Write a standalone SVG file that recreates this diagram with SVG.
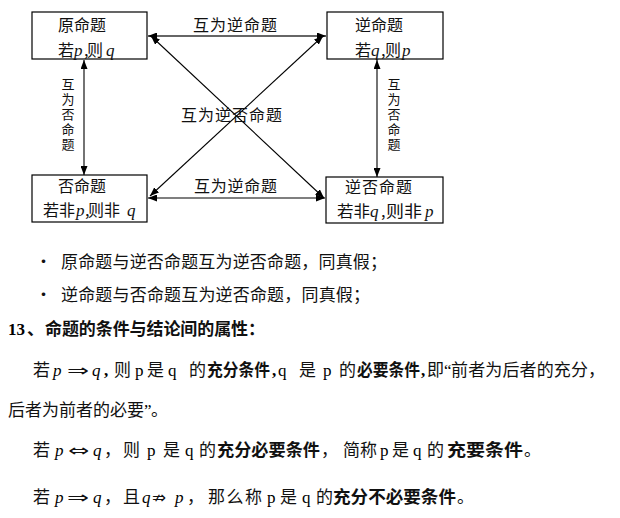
<svg xmlns="http://www.w3.org/2000/svg" width="620" height="518" viewBox="0 0 620 518">
<defs>
<style>
.cj{font-family:"Noto Sans CJK SC","Noto Sans",sans-serif;fill:#111}
.d{font-size:16px}
.t{font-size:17px}
.v{font-size:13px;text-anchor:middle}
.b{font-weight:bold}
.m{font-family:"Liberation Serif",serif;font-style:italic;font-size:17px}
.r{font-family:"Liberation Serif",serif;font-size:17px}
.s{font-family:"DejaVu Sans",sans-serif;font-size:16px;fill:#111}
.box{fill:#fff;stroke:#000;stroke-width:1.2}
.ln{stroke:#000;stroke-width:1.1;fill:none;marker-start:url(#ah);marker-end:url(#ah)}
</style>
<marker id="ah" markerUnits="userSpaceOnUse" markerWidth="9" markerHeight="7" refX="9" refY="3.5" orient="auto-start-reverse">
<path d="M0,0 L9,3.5 L0,7 z" fill="#000"/>
</marker>
</defs>
<rect width="620" height="518" fill="#fff"/>

<g id="connectors">
<line class="ln" x1="148" y1="36" x2="326" y2="36" style="stroke:#666;stroke-width:2"/>
<line class="ln" x1="148" y1="198" x2="325" y2="198"/>
<line class="ln" x1="84" y1="60" x2="84" y2="175"/>
<line class="ln" x1="377" y1="60" x2="377" y2="177"/>
<line class="ln" x1="151" y1="36" x2="324" y2="198"/>
<line class="ln" x1="323" y1="36" x2="150" y2="196"/>
<text class="cj d" x="193" y="31" textLength="84" lengthAdjust="spacing">互为逆命题</text>
<text class="cj d" x="181" y="121" textLength="101" lengthAdjust="spacing">互为逆否命题</text>
<text class="cj d" x="194" y="192" textLength="83" lengthAdjust="spacing">互为逆命题</text>
<text class="cj v"><tspan x="68" y="88.5">互</tspan><tspan x="68" y="103.5">为</tspan><tspan x="68" y="118.5">否</tspan><tspan x="68" y="133.5">命</tspan><tspan x="68" y="148.5">题</tspan></text>
<text class="cj v"><tspan x="394" y="88.5">互</tspan><tspan x="394" y="103.5">为</tspan><tspan x="394" y="118.5">否</tspan><tspan x="394" y="133.5">命</tspan><tspan x="394" y="148.5">题</tspan></text>
</g>

<g id="n-yuan">
<rect class="box" x="32" y="12" width="115" height="47"/>
<text class="cj d" x="58" y="30.5">原命题</text>
<text class="cj d" y="56"><tspan x="58">若</tspan><tspan class="m" x="74">p</tspan><tspan x="84">,</tspan><tspan x="87">则</tspan><tspan class="m" x="106">q</tspan></text>
</g>
<g id="n-ni">
<rect class="box" x="327" y="12" width="116" height="47"/>
<text class="cj d" x="355" y="31">逆命题</text>
<text class="cj d" y="56"><tspan x="355">若</tspan><tspan class="m" x="371">q</tspan><tspan x="381">,</tspan><tspan x="385">则</tspan><tspan class="m" x="402">p</tspan></text>
</g>
<g id="n-fou">
<rect class="box" x="32" y="175" width="115" height="47"/>
<text class="cj d" x="58" y="191.5">否命题</text>
<text class="cj d" y="215.5"><tspan x="43">若非</tspan><tspan class="m" x="76">p</tspan><tspan x="85">,</tspan><tspan x="88">则非</tspan><tspan class="m" x="127">q</tspan></text>
</g>
<g id="n-nifou">
<rect class="box" x="326" y="177" width="117" height="46"/>
<text class="cj d" x="345" y="193" textLength="67" lengthAdjust="spacing">逆否命题</text>
<text class="cj d" y="217"><tspan x="337" textLength="33" lengthAdjust="spacingAndGlyphs">若非</tspan><tspan class="m" x="370">q</tspan><tspan x="381">,</tspan><tspan x="386" textLength="36" lengthAdjust="spacingAndGlyphs">则非</tspan><tspan class="m" x="425">p</tspan></text>
</g>

<g id="body">
<text class="cj t" x="35" y="268">•</text>
<text class="cj t" x="61" y="268" textLength="326" lengthAdjust="spacing">原命题与逆否命题互为逆否命题，同真假；</text>
<text class="cj t" x="35" y="301">•</text>
<text class="cj t" x="61" y="301" textLength="309" lengthAdjust="spacing">逆命题与否命题互为逆否命题，同真假；</text>
<text class="r b" x="8" y="335">13</text>
<text class="cj t b" x="27" y="335">、</text>
<text class="cj t b" x="45" y="335" textLength="220" lengthAdjust="spacing">命题的条件与结论间的属性：</text>

<text class="cj t" x="33" y="376">若</text>
<text class="m" x="53" y="376">p</text>
<text class="s" x="67" y="376" textLength="22" lengthAdjust="spacingAndGlyphs">⇒</text>
<text class="m" x="92" y="376">q</text>
<text class="r b" x="104" y="376">,</text>
<text class="cj t" x="114" y="376">则</text>
<text class="r" x="135" y="376">p</text>
<text class="cj t" x="147" y="376">是</text>
<text class="r" x="168" y="376">q</text>
<text class="cj t" x="189" y="376">的</text>
<text class="cj t b" x="207" y="376" textLength="63" lengthAdjust="spacingAndGlyphs">充分条件</text>
<text class="r b" x="272" y="376">,</text>
<text class="r" x="278" y="376">q</text>
<text class="cj t" x="299" y="376">是</text>
<text class="r" x="323" y="376">p</text>
<text class="cj t" x="339" y="376">的</text>
<text class="cj t b" x="357" y="376" textLength="63" lengthAdjust="spacingAndGlyphs">必要条件</text>
<text class="r b" x="421" y="376">,</text>
<text class="cj t" x="427" y="376">即</text>
<text class="r" x="444" y="376">“</text>
<text class="cj t" x="451" y="376" textLength="154" lengthAdjust="spacing">前者为后者的充分，</text>

<text class="cj t" x="8" y="416" textLength="136" lengthAdjust="spacing">后者为前者的必要</text>
<text class="r" x="144" y="416">”</text>
<text class="cj t" x="151" y="416">。</text>

<text class="cj t" x="33" y="456">若</text>
<text class="m" x="55" y="456">p</text>
<text class="s" x="68" y="456" textLength="21" lengthAdjust="spacingAndGlyphs">⇔</text>
<text class="m" x="93" y="456">q</text>
<text class="cj t" x="104" y="456">，</text>
<text class="cj t" x="123" y="456">则</text>
<text class="r" x="147" y="456">p</text>
<text class="cj t" x="163" y="456">是</text>
<text class="r" x="185" y="456">q</text>
<text class="cj t" x="199" y="456">的</text>
<text class="cj t b" x="217" y="456" textLength="103" lengthAdjust="spacingAndGlyphs">充分必要条件</text>
<text class="cj t" x="321" y="456">，</text>
<text class="cj t" x="343" y="456">简称</text>
<text class="r" x="380" y="456">p</text>
<text class="cj t" x="392" y="456">是</text>
<text class="r" x="413" y="456">q</text>
<text class="cj t" x="427" y="456">的</text>
<text class="cj t b" x="447" y="456" textLength="76" lengthAdjust="spacingAndGlyphs">充要条件</text>
<text class="cj t" x="524" y="456">。</text>

<text class="cj t" x="33" y="503">若</text>
<text class="m" x="55" y="503">p</text>
<text class="s" x="67" y="503" textLength="22" lengthAdjust="spacingAndGlyphs">⇒</text>
<text class="m" x="93" y="503">q</text>
<text class="cj t" x="104" y="503">，</text>
<text class="cj t" x="123" y="503">且</text>
<text class="m" x="142" y="503">q</text>
<text class="s" x="152" y="503" textLength="14" lengthAdjust="spacingAndGlyphs">⇏</text>
<text class="m" x="175" y="503">p</text>
<text class="cj t" x="187" y="503">，</text>
<text class="cj t" x="208" y="503" textLength="54" lengthAdjust="spacing">那么称</text>
<text class="r" x="267" y="503">p</text>
<text class="cj t" x="280" y="503">是</text>
<text class="r" x="302" y="503">q</text>
<text class="cj t" x="316" y="503">的</text>
<text class="cj t b" x="333" y="503" textLength="123" lengthAdjust="spacingAndGlyphs">充分不必要条件</text>
<text class="cj t" x="457" y="503">。</text>
</g>
</svg>
